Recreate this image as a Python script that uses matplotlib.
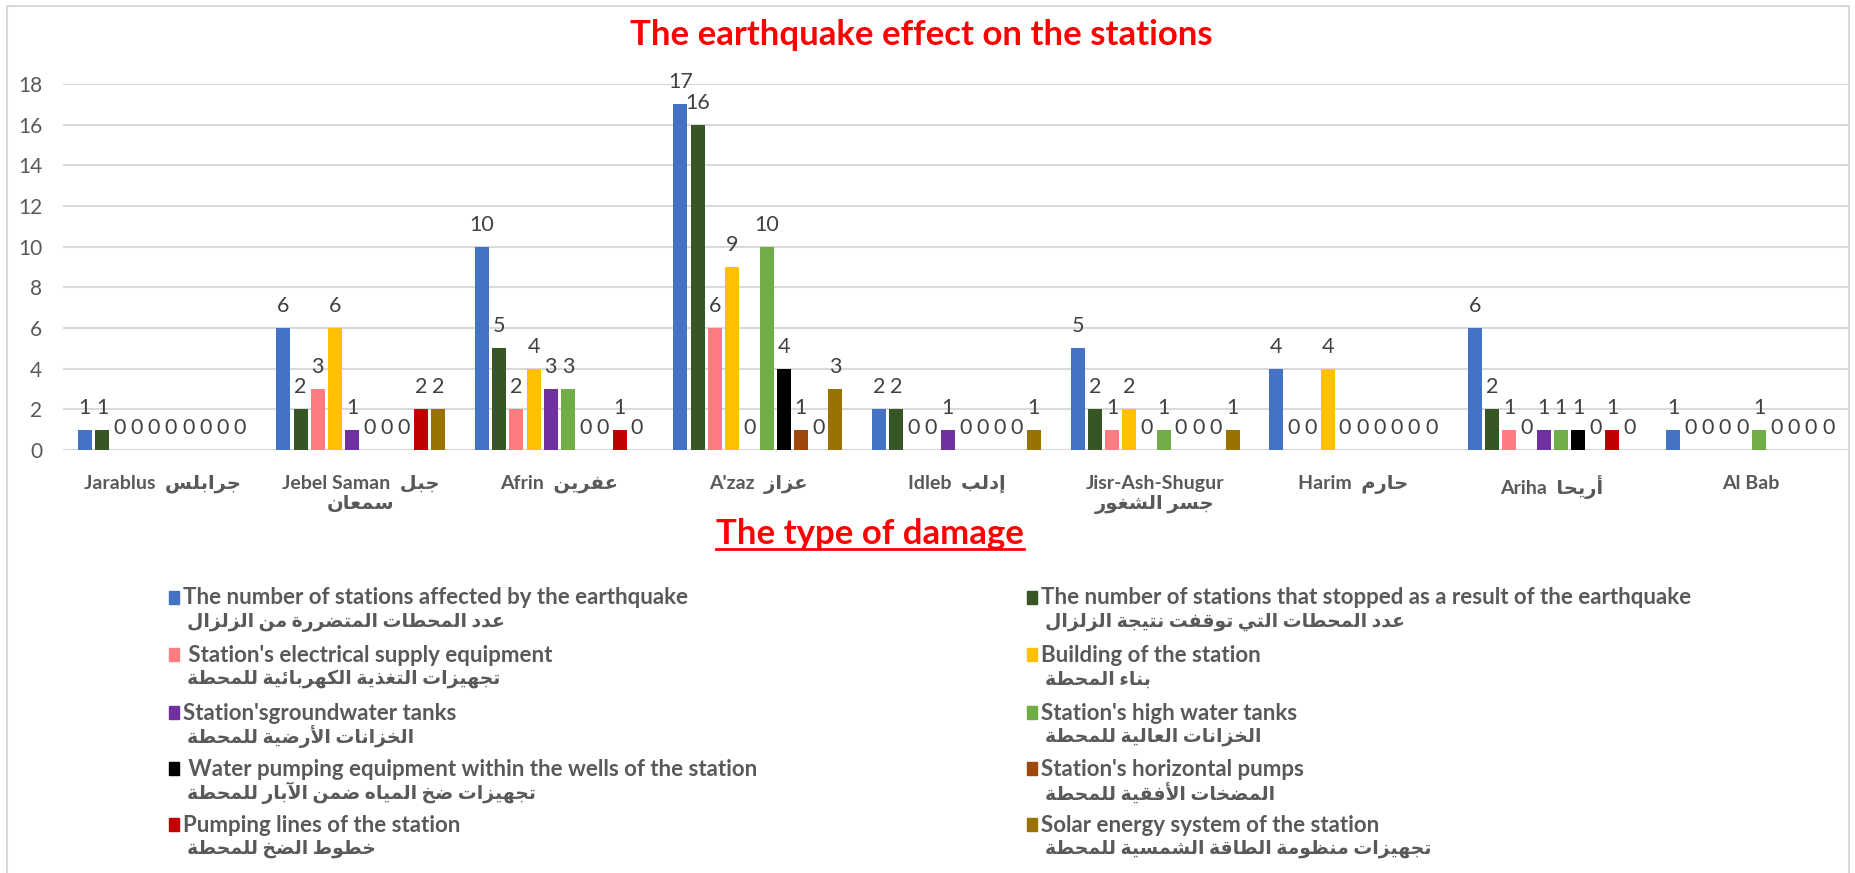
import matplotlib
matplotlib.use('Agg')
import matplotlib.pyplot as plt
from matplotlib.patches import Rectangle
from matplotlib.lines import Line2D
import numpy as np

# datos del grafico
categories_en = ["Jarablus", "Jebel Saman", "Afrin", "A'zaz", "Idleb",
                 "Jisr-Ash-Shugur", "Harim", "Ariha", "Al Bab"]
categories_ar = ["جرابلس", "جبل\nسمعان", "عفرين", "عزاز", "إدلب",
                 "\nجسر الشغور", "حارم", "أريحا", ""]

affected = [1, 6, 10, 17, 2, 5, 4, 6, 1]
stopped = [1, 2, 5, 16, 2, 2, 0, 2, 0]
electrical = [0, 3, 2, 6, 0, 1, 0, 1, 0]
building = [0, 6, 4, 9, 0, 2, 4, 0, 0]
ground_tanks = [0, 1, 3, 0, 1, 0, 0, 1, 0]
high_tanks = [0, 0, 3, 10, 0, 1, 0, 1, 1]
well_pumps = [0, 0, 0, 4, 0, 0, 0, 1, 0]
horizontal_pumps = [0, 0, 0, 1, 0, 0, 0, 0, 0]
pumping_lines = [0, 2, 1, 0, 0, 0, 0, 1, 0]
solar = [0, 2, 0, 3, 1, 1, 0, 0, 0]

series_en = [
    "The number of stations affected by the earthquake",
    "The number of stations that stopped as a result of the earthquake",
    " Station's electrical supply equipment",
    "Building of the station",
    "Station'sgroundwater tanks",
    "Station's high water tanks",
    " Water pumping equipment within the wells of the station",
    "Station's horizontal pumps",
    "Pumping lines of the station",
    "Solar energy system of the station",
]
series_ar = [
    "عدد المحطات المتضررة من الزلزال",
    "عدد المحطات التي توقفت نتيجة الزلزال",
    "تجهيزات التغذية الكهربائية للمحطة",
    "بناء المحطة",
    "الخزانات الأرضية للمحطة",
    "الخزانات العالية للمحطة",
    "تجهيزات ضخ المياه ضمن الآبار للمحطة",
    "المضخات الأفقية للمحطة",
    "خطوط الضخ للمحطة",
    "تجهيزات منظومة الطاقة الشمسية للمحطة",
]
colors = ["#4472C4", "#375623", "#FF7C80", "#FFC000", "#7030A0",
          "#70AD47", "#000000", "#9E480E", "#C00000", "#997300"]

all_series = [affected, stopped, electrical, building, ground_tanks,
              high_tanks, well_pumps, horizontal_pumps, pumping_lines, solar]

# formas de presentacion arabes (matplotlib no hace shaping)
TABLE = {
    '\u0621': (0xFE80, 'U'), '\u0622': (0xFE81, 'R'), '\u0623': (0xFE83, 'R'),
    '\u0624': (0xFE85, 'R'), '\u0625': (0xFE87, 'R'), '\u0626': (0xFE89, 'D'),
    '\u0627': (0xFE8D, 'R'), '\u0628': (0xFE8F, 'D'), '\u0629': (0xFE93, 'R'),
    '\u062A': (0xFE95, 'D'), '\u062B': (0xFE99, 'D'), '\u062C': (0xFE9D, 'D'),
    '\u062D': (0xFEA1, 'D'), '\u062E': (0xFEA5, 'D'), '\u062F': (0xFEA9, 'R'),
    '\u0630': (0xFEAB, 'R'), '\u0631': (0xFEAD, 'R'), '\u0632': (0xFEAF, 'R'),
    '\u0633': (0xFEB1, 'D'), '\u0634': (0xFEB5, 'D'), '\u0635': (0xFEB9, 'D'),
    '\u0636': (0xFEBD, 'D'), '\u0637': (0xFEC1, 'D'), '\u0638': (0xFEC5, 'D'),
    '\u0639': (0xFEC9, 'D'), '\u063A': (0xFECD, 'D'), '\u0641': (0xFED1, 'D'),
    '\u0642': (0xFED5, 'D'), '\u0643': (0xFED9, 'D'), '\u0644': (0xFEDD, 'D'),
    '\u0645': (0xFEE1, 'D'), '\u0646': (0xFEE5, 'D'), '\u0647': (0xFEE9, 'D'),
    '\u0648': (0xFEED, 'R'), '\u0649': (0xFEEF, 'R'), '\u064A': (0xFEF1, 'D'),
}
LAMALEF = {'\u0622': 0xFEF5, '\u0623': 0xFEF7, '\u0625': 0xFEF9, '\u0627': 0xFEFB}


def shape_line(s):
    out = []
    n = len(s)
    i = 0
    while i < n:
        c = s[i]
        if c not in TABLE:
            out.append(c)
            i += 1
            continue
        prev = i > 0 and s[i - 1] in TABLE and TABLE[s[i - 1]][1] == 'D'
        if c == '\u0644' and i + 1 < n and s[i + 1] in LAMALEF:
            out.append(chr(LAMALEF[s[i + 1]] + (1 if prev else 0)))
            i += 2
            continue
        base, jt = TABLE[c]
        nxt = (jt == 'D' and i + 1 < n and s[i + 1] in TABLE
               and TABLE[s[i + 1]][1] != 'U')
        if jt == 'U':
            f = 0
        elif prev and nxt:
            f = 3
        elif prev:
            f = 1
        elif nxt:
            f = 2
        else:
            f = 0
        out.append(chr(base + f))
        i += 1
    return ''.join(reversed(out))


def shape(s):
    return '\n'.join(shape_line(l) for l in s.split('\n'))


FAM = ['Lato', 'DejaVu Sans']
W, H = 1856, 873
GRAY = '#595959'


def fx(px):
    return px / W


def fy(py):
    return 1 - py / H


fig = plt.figure(figsize=(W / 100, H / 100), dpi=100)
ax = fig.add_axes([fx(63), fy(450), fx(1850) - fx(63), fy(84) - fy(450)])

x = np.arange(len(categories_en))
slot = 0.0867
barw = 0.0705
for j, vals in enumerate(all_series):
    pos = x + (j - 4.5) * slot
    ax.bar(pos, vals, width=barw, color=colors[j], zorder=3)
    for xp, v in zip(pos, vals):
        ax.annotate(str(v), (xp, v), xytext=(0, 11.5), textcoords='offset points',
                    ha='center', va='baseline', fontsize=15.5, color='#404040',
                    family=FAM, annotation_clip=False)

ax.set_xlim(-0.5, len(categories_en) - 0.5)
ax.set_ylim(0, 18)
ax.set_yticks(range(0, 19, 2))
ax.yaxis.grid(True, color='#D9D9D9', linewidth=1.5, zorder=0)
ax.set_axisbelow(True)
for s in ax.spines.values():
    s.set_visible(False)
ax.tick_params(axis='y', length=0, pad=15, labelsize=15, labelcolor=GRAY)
ax.tick_params(axis='x', length=0, pad=18)

xlabels = []
for en, ar in zip(categories_en, categories_ar):
    if ar.startswith('\n'):
        xlabels.append(en + shape(ar))
    elif ar:
        xlabels.append(en + "  " + shape(ar))
    else:
        xlabels.append(en)
ax.set_xticks(x)
ax.set_xticklabels(xlabels, fontsize=14, weight='bold', color=GRAY, family=FAM)
for t in ax.get_yticklabels():
    t.set_family(FAM)

# titulo y subtitulo
fig.text(fx(921), fy(35), "The earthquake effect on the stations", ha='center',
         va='center', color='red', fontsize=25, weight='bold', family=FAM)
sub = fig.text(fx(870), fy(544), "The type of damage", ha='center', va='baseline',
               color='red', fontsize=25, weight='bold', family=FAM)
fig.canvas.draw()
bb = sub.get_window_extent()
fig.add_artist(Line2D([bb.x0 / W, bb.x1 / W], [fy(549), fy(549)], color='red',
                      linewidth=2, transform=fig.transFigure))

# leyenda dibujada a mano (dos columnas, texto en dos lineas)
col_x = [169, 1027]
row_y = [598, 655, 713, 769, 825]
for k in range(len(all_series)):
    cx = col_x[k % 2]
    ry = row_y[k // 2]
    fig.add_artist(Rectangle((fx(cx), fy(ry + 6)), 10 / W, 13 / H, color=colors[k],
                             transform=fig.transFigure))
    fig.text(fx(cx + 14), fy(ry), series_en[k], ha='left', va='center', fontsize=16,
             weight='bold', color=GRAY, family=FAM)
    fig.text(fx(cx + 18), fy(ry + 24), shape(series_ar[k]), ha='left', va='center',
             fontsize=13.5, weight='bold', color=GRAY, family=FAM)

# borde del grafico
fig.add_artist(Rectangle((fx(7), -0.05), fx(1849) - fx(7), fy(6) + 0.05, fill=False,
                         edgecolor='#D9D9D9', linewidth=1.5, transform=fig.transFigure))

fig.savefig('out.png', dpi=100)
